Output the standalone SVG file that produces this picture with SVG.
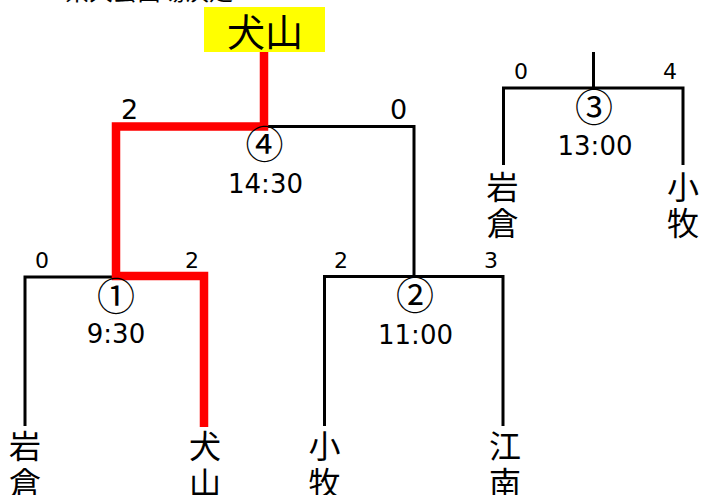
<svg xmlns="http://www.w3.org/2000/svg" width="701" height="495" viewBox="0 0 701 495">
<style>
.ln{fill:none;stroke:#000;stroke-width:3;stroke-linejoin:miter;stroke-linecap:butt}
.win{fill:none;stroke:#FF0000;stroke-width:8.5;stroke-linejoin:miter;stroke-linecap:butt}
.sc{font-family:"DejaVu Sans",sans-serif;font-size:22px;fill:#000;text-anchor:middle}
.scb{font-family:"DejaVu Sans",sans-serif;font-size:27px;fill:#000;text-anchor:middle}
.tm{font-family:"DejaVu Sans",sans-serif;font-size:26px;fill:#000;text-anchor:middle}
.no{font-family:"Noto Sans CJK JP",sans-serif;font-size:38px;fill:#000;text-anchor:middle}
.tn{font-family:"Noto Sans CJK JP",sans-serif;font-size:32px;fill:#000;text-anchor:middle}
.ttl{font-family:"Noto Sans CJK JP",sans-serif;font-size:24px;fill:#000}
</style>
<rect width="701" height="495" fill="#fff"/>
<text class="ttl" x="65" y="0">県大会出場決定</text>
<g id="connectors">
<path class="ln" d="M25,426 V277 H116"/>
<path class="ln" d="M324.5,426 V276.5 H503 V426"/>
<path class="ln" d="M414,276.5 V126.5 H264"/>
<path class="ln" d="M503.5,165 V88 H683 V165"/>
<path class="ln" d="M593.5,52 V88"/>
<path class="win" d="M204,427 V276 H116 V126.5 H264 V52"/>
</g>
<g id="champion">
<rect x="204" y="7" width="121" height="45" fill="#FFFF00"/>
<text class="tn" x="265" y="46" style="font-size:38px">犬山</text>
</g>
<g id="match1">
<text class="sc" x="42" y="268">0</text>
<text class="sc" x="192" y="268">2</text>
<text class="no" x="116" y="310">①</text>
<text class="tm" x="116" y="343">9:30</text>
</g>
<g id="match2">
<text class="sc" x="341" y="268">2</text>
<text class="sc" x="491" y="268">3</text>
<text class="no" x="415" y="309">②</text>
<text class="tm" x="415.5" y="344">11:00</text>
</g>
<g id="match3">
<text class="sc" x="521" y="79">0</text>
<text class="sc" x="670" y="79">4</text>
<text class="no" x="594" y="121">③</text>
<text class="tm" x="595" y="155">13:00</text>
</g>
<g id="match4">
<text class="scb" x="129.7" y="119">2</text>
<text class="scb" x="398.5" y="119">0</text>
<text class="no" x="264.5" y="158">④</text>
<text class="tm" x="265.5" y="193">14:30</text>
</g>
<g id="team-iwakura1"><text class="tn" x="25" y="458">岩</text><text class="tn" x="25" y="495">倉</text></g>
<g id="team-inuyama"><text class="tn" x="205" y="458">犬</text><text class="tn" x="205" y="495">山</text></g>
<g id="team-komaki1"><text class="tn" x="324.5" y="458">小</text><text class="tn" x="324.5" y="495">牧</text></g>
<g id="team-konan"><text class="tn" x="505" y="458">江</text><text class="tn" x="505" y="495">南</text></g>
<g id="team-iwakura2"><text class="tn" x="502.5" y="199">岩</text><text class="tn" x="502.5" y="235">倉</text></g>
<g id="team-komaki2"><text class="tn" x="683" y="199">小</text><text class="tn" x="683" y="235">牧</text></g>
</svg>
